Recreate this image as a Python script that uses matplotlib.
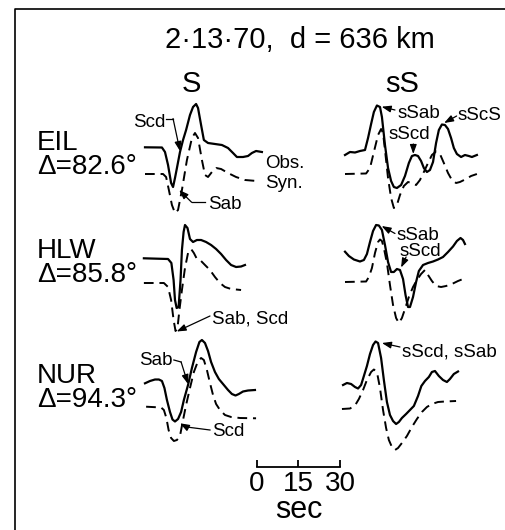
import matplotlib
matplotlib.use("Agg")
import matplotlib.pyplot as plt

plt.rcParams['font.family'] = ['Liberation Sans', 'DejaVu Sans']

FIG_W, FIG_H = 506, 530
SEC_PER_PX = 30 / 83.3          # 30 s scale bar is 83 px long

stations = ['EIL', 'HLW', 'NUR']
distances = [82.6, 85.8, 94.3]
phases = ['S', 'sS']

# observed (solid) and synthetic (dashed) seismograms: time [s], relative amplitude
eil_s_obs_t = [1.8, 7.9, 9.0, 10.1, 11.2, 11.9, 12.6, 13.3, 14.4, 15.5, 16.6, 18.0, 19.1, 20.2,
               20.9, 22.0, 23.0, 24.5, 27.0, 29.5, 31.7, 33.5, 34.9, 37.1, 38.9, 40.3, 41.8, 43.9]
eil_s_obs_a = [2.7, 2.5, -2, -15, -33, -37, -28, -18, -2, 10, 20, 35, 43, 46,
               42, 25, 10, 7, 6, 5, 2, -3, -7, -7, -6, -3, -1, -2]
eil_s_syn_t = [1.8, 8.3, 9.4, 10.4, 11.5, 12.6, 13.7, 15.1, 16.9, 18.7, 19.8, 20.9, 22.3, 23.4,
               24.5, 25.9, 27.4, 29.2, 31.7, 34.6, 37.8, 42.1]
eil_s_syn_a = [-24, -24, -27, -40, -55, -63, -60, -40, -10, 12, 17, 12, -10, -25,
               -27, -22, -18, -19, -23, -27, -30, -31]

eil_ss_obs_t = [1.8, 3.6, 5.4, 7.2, 9.0, 10.1, 11.2, 12.2, 13.3, 14.4, 15.1, 16.2, 17.3, 18.4,
                19.4, 20.5, 22.0, 23.4, 24.8, 25.9, 27.0, 28.1, 29.2, 30.2, 31.3, 32.4, 33.5,
                34.6, 35.6, 36.7, 37.8, 38.9, 40.0, 41.0, 42.1, 43.6, 45.0, 46.4, 47.5, 49.3]
eil_ss_obs_a = [-5, -2, -2.5, -1, 0, 12, 26, 38, 44.5, 43, 33, 5, -18, -31,
                -37, -38, -35, -26, -13, -6, -5, -6, -11, -18, -22, -20, -12,
                7, 20, 25.5, 25, 21, 12, 2, -4, -7, -5, -6, -7, -5]
eil_ss_syn_t = [1.8, 9.4, 10.8, 12.2, 13.7, 14.8, 15.5, 16.2, 17.3, 18.4, 19.4, 20.5, 21.6,
                23.0, 24.5, 25.9, 27.4, 28.8, 30.2, 31.7, 33.1, 34.6, 36.0, 37.4, 38.9, 40.3,
                41.8, 43.2, 45.4, 47.2, 49.3]
eil_ss_syn_a = [-24, -23.5, -18, -2, 15, 21, 17, 0, -28, -48, -58, -55, -45,
                -36, -32, -33, -35, -30, -22, -13, -5, -1.5, -4, -13, -23, -30,
                -33, -32, -29, -26, -24]

hlw_s_obs_t = [1.4, 10.1, 11.3, 12.1, 12.6, 13.2, 13.9, 14.6, 15.1, 15.7, 16.2, 17.1, 18.0,
               19.1, 20.5, 22.0, 23.8, 25.6, 27.4, 29.2, 31.0, 32.8, 34.6, 36.4, 37.8]
hlw_s_obs_a = [-0.3, -1, -5, -22, -42, -50, -49, -22, 8, 26, 33, 30, 19,
               16, 18, 18, 16, 13, 9, 4, -2, -7, -9, -8.5, -7]
hlw_s_syn_t = [1.4, 8.6, 10.1, 11.2, 12.1, 12.8, 13.5, 14.2, 15.1, 16.2, 17.3, 18.4, 19.4,
               20.5, 22.0, 23.4, 25.2, 27.0, 28.8, 30.6, 32.8, 36.4]
hlw_s_syn_a = [-25, -25, -29, -42, -62, -73, -70, -52, -32, -10, 5, 9, 5,
               -1, -3, -7, -12, -19, -25, -29, -31, -32]

hlw_ss_obs_t = [1.8, 3.2, 5.0, 7.2, 8.6, 9.7, 10.8, 11.9, 13.0, 14.0, 15.1, 16.2, 17.3, 18.4,
                19.4, 20.5, 21.6, 22.7, 23.6, 24.5, 25.2, 26.3, 27.4, 28.4, 29.9, 31.7, 33.5,
                35.3, 37.1, 38.9, 40.7, 42.1, 43.4, 44.3, 45.0]
hlw_ss_obs_a = [6.3, 2, -1.5, -3.5, -2, 4, 16, 27, 33, 32.5, 28, 13, -4, -14,
                -14, -11, -12, -21, -37, -49, -49, -39, -24, -13, -7, -5, -3.5,
                -1.5, 1, 6, 11.5, 17, 20, 18, 14]
hlw_ss_syn_t = [1.8, 9.4, 10.4, 11.5, 12.6, 13.7, 14.4, 15.1, 15.8, 16.9, 18.0, 19.1, 20.2,
                21.2, 22.3, 23.4, 24.8, 26.3, 27.7, 29.2, 30.6, 31.7, 33.1, 34.6, 36.4, 38.2,
                40.3, 42.5, 44.3]
hlw_ss_syn_a = [-24, -23.5, -19, -10, 5, 16, 18.5, 17, 10, -5, -27, -47, -60,
                -65, -60, -51, -39, -29, -22, -16, -12, -17, -23, -28, -29, -28,
                -26, -23, -21]

nur_s_obs_t = [1.8, 3.6, 5.4, 6.8, 7.9, 8.8, 9.7, 10.8, 11.7, 12.6, 13.7, 14.8, 15.8, 17.3,
               18.7, 20.2, 21.4, 22.3, 23.4, 24.5, 25.6, 27.0, 28.4, 29.9, 31.7, 33.1, 34.4,
               35.6, 37.1, 38.9, 41.4]
nur_s_obs_a = [-0.3, 2, 3.5, 3.5, 2, -5, -17, -29, -36.5, -38.5, -36, -29, -17, -2,
               15, 31, 41, 43, 40, 32, 21, 11, 4, -1, -7, -11, -12.5,
               -11, -8.5, -7.5, -7]
nur_s_syn_t = [2.2, 7.6, 8.6, 9.5, 10.3, 11.2, 12.2, 13.3, 14.4, 15.5, 16.6, 18.0, 19.4,
               20.9, 22.0, 23.0, 24.1, 25.2, 26.3, 27.4, 28.8, 30.6, 32.8, 36.0, 41.8]
nur_s_syn_a = [-23.7, -24.5, -27, -35, -47, -55, -58, -57, -53, -37, -22, -5, 11,
               22, 25, 23, 13, 0, -12, -21, -27, -32, -34, -35, -35.3]

nur_ss_obs_t = [1.1, 2.5, 4.0, 5.4, 6.5, 7.6, 8.6, 9.7, 10.8, 11.9, 12.8, 13.7, 14.8, 15.8,
                16.9, 18.0, 19.1, 20.2, 21.2, 22.3, 23.8, 25.2, 26.6, 28.1, 29.3, 30.6, 32.0,
                33.1, 34.2, 35.6, 37.1, 38.5, 39.6, 41.0, 42.5]
nur_ss_obs_a = [-2, 0, -1, -4, -5.5, -2, 7, 17, 29, 38, 41.5, 40, 25, 3,
                -19, -32, -38, -41, -39, -35, -31, -27, -23, -13, -3, 2, 6,
                11, 12, 7, 3, 1, 4, 9, 11.5]
nur_ss_syn_t = [0.7, 3.6, 5.4, 6.8, 8.3, 9.7, 11.2, 12.2, 13.3, 14.4, 15.5, 16.6, 17.6,
                18.7, 19.8, 20.9, 22.3, 24.1, 25.9, 27.7, 29.5, 31.3, 33.1, 35.3, 37.8, 41.8]
nur_ss_syn_a = [-26, -25.5, -22.5, -16, -7, 3, 11, 13.5, 11, -5, -27, -45, -57,
                -64, -67, -65, -60, -53, -44, -36, -29, -24, -21, -19, -18.5, -18]

traces = {
    ('EIL', 'S'): (eil_s_obs_t, eil_s_obs_a, eil_s_syn_t, eil_s_syn_a),
    ('EIL', 'sS'): (eil_ss_obs_t, eil_ss_obs_a, eil_ss_syn_t, eil_ss_syn_a),
    ('HLW', 'S'): (hlw_s_obs_t, hlw_s_obs_a, hlw_s_syn_t, hlw_s_syn_a),
    ('HLW', 'sS'): (hlw_ss_obs_t, hlw_ss_obs_a, hlw_ss_syn_t, hlw_ss_syn_a),
    ('NUR', 'S'): (nur_s_obs_t, nur_s_obs_a, nur_s_syn_t, nur_s_syn_a),
    ('NUR', 'sS'): (nur_ss_obs_t, nur_ss_obs_a, nur_ss_syn_t, nur_ss_syn_a),
}

# phase labels: text, (t, amp) of baseline, alignment, leader points ending at the arrow tip
phase_labels = {
    ('EIL', 'S'): [('Scd', (9.0, 23), 'right', [(9.4, 31.5), (11.9, 31.5), (14.4, -1)]),
                   ('Sab', (24.5, -59), 'left', [(23.4, -52.3), (18.6, -52.3), (14.1, -40)]),
                   ('Obs.', (45.0, -18), 'left', None),
                   ('Syn.', (45.0, -38), 'left', None)],
    ('EIL', 'sS'): [('sSab', (20.8, 32), 'left', [(19.8, 40), (15.0, 43.3)]),
                    ('sScd', (17.4, 11), 'left', [(26.4, 6), (26.4, -4)]),
                    ('sScS', (42.5, 30), 'left', [(42.0, 34), (37.5, 27)])],
    ('HLW', 'S'): [('Sab, Scd', (25.9, -65), 'left', [(25.2, -58), (13.2, -73.5)])],
    ('HLW', 'sS'): [('sSab', (20.2, 18), 'left', [(19.8, 24.5), (15.0, 32)]),
                    ('sScd', (21.6, 1.5), 'left', [(23.8, 1), (22.0, -9.5)])],
    ('NUR', 'S'): [('Sab', (11.9, 18), 'right', [(12.2, 23), (14.8, 21), (17.3, -1)]),
                   ('Scd', (25.8, -53.5), 'left', [(25.2, -47), (16.8, -44), (14.4, -40.3)])],
    ('NUR', 'sS'): [('sScd, sSab', (22.2, 26.5), 'left', [(21.6, 36), (15.1, 40)])],
}

col_x0 = {'S': 140, 'sS': 340}
row_ref = {'EIL': 150, 'HLW': 258, 'NUR': 383}
PANEL_W, PANEL_UP, PANEL_DOWN = 150, 70, 90

ARROW = dict(arrowstyle='-|>,head_length=0.55,head_width=0.2', lw=0.9, color='k',
             shrinkA=0, shrinkB=0)

fig = plt.figure(figsize=(FIG_W / 100, FIG_H / 100), dpi=100, facecolor='w')

# frame and headings, in pixel units
bg = fig.add_axes([0, 0, 1, 1])
bg.set_xlim(0, FIG_W)
bg.set_ylim(FIG_H, 0)
bg.axis('off')
bg.plot([15, 15, FIG_W], [FIG_H, 8.5, 8.5], color='k', lw=1.2)
bg.text(300, 48, '2·13·70,  d = 636 km', fontsize=21, ha='center', va='baseline')
bg.text(191, 92, phases[0], fontsize=21, ha='center', va='baseline')
bg.text(402, 92, phases[1], fontsize=21, ha='center', va='baseline')
for name, dist in zip(stations, distances):
    y = row_ref[name]
    bg.text(37, y, name, fontsize=20, ha='left', va='baseline')
    bg.text(37, y + 24, '\u0394=%.1f°' % dist, fontsize=20, ha='left', va='baseline')


def panel_axes(x0, ref):
    rect = [x0 / FIG_W, (FIG_H - ref - PANEL_DOWN) / FIG_H,
            PANEL_W / FIG_W, (PANEL_UP + PANEL_DOWN) / FIG_H]
    ax = fig.add_axes(rect)
    ax.set_xlim(0, PANEL_W * SEC_PER_PX)
    ax.set_ylim(-PANEL_DOWN, PANEL_UP)
    ax.axis('off')
    return ax


for name in stations:
    for ph in phases:
        ax = panel_axes(col_x0[ph], row_ref[name])
        t_obs, a_obs, t_syn, a_syn = traces[(name, ph)]
        ax.plot(t_obs, a_obs, color='k', lw=1.6, solid_joinstyle='round', clip_on=False)
        ax.plot(t_syn, a_syn, color='k', lw=1.4, linestyle=(0, (5, 3)), clip_on=False)
        for text, pos, ha, pts in phase_labels[(name, ph)]:
            ax.text(pos[0], pos[1], text, fontsize=13.5, ha=ha, va='baseline')
            if pts is None:
                continue
            if len(pts) > 2:
                xs, ys = zip(*pts[:-1])
                ax.plot(xs, ys, color='k', lw=0.9, clip_on=False)
            ax.annotate('', xy=pts[-1], xytext=pts[-2], arrowprops=ARROW,
                        annotation_clip=False)

# time scale bar
sb = fig.add_axes([256.7 / FIG_W, (FIG_H - 466.7) / FIG_H, 83.3 / FIG_W, 10 / FIG_H])
sb.set_xlim(0, 30)
sb.set_ylim(0, 1)
sb.patch.set_visible(False)
for side in ['top', 'left', 'right']:
    sb.spines[side].set_visible(False)
sb.spines['bottom'].set_linewidth(1.3)
sb.set_yticks([])
sb.set_xticks([0, 15, 30])
sb.set_xticklabels(['0', '15', '30'])
sb.tick_params(axis='x', direction='in', length=5, width=1.3, pad=3, labelsize=20)
bg.text(299, 518, 'sec', fontsize=22, ha='center', va='baseline')

fig.savefig('out.png', dpi=100, facecolor='w')
